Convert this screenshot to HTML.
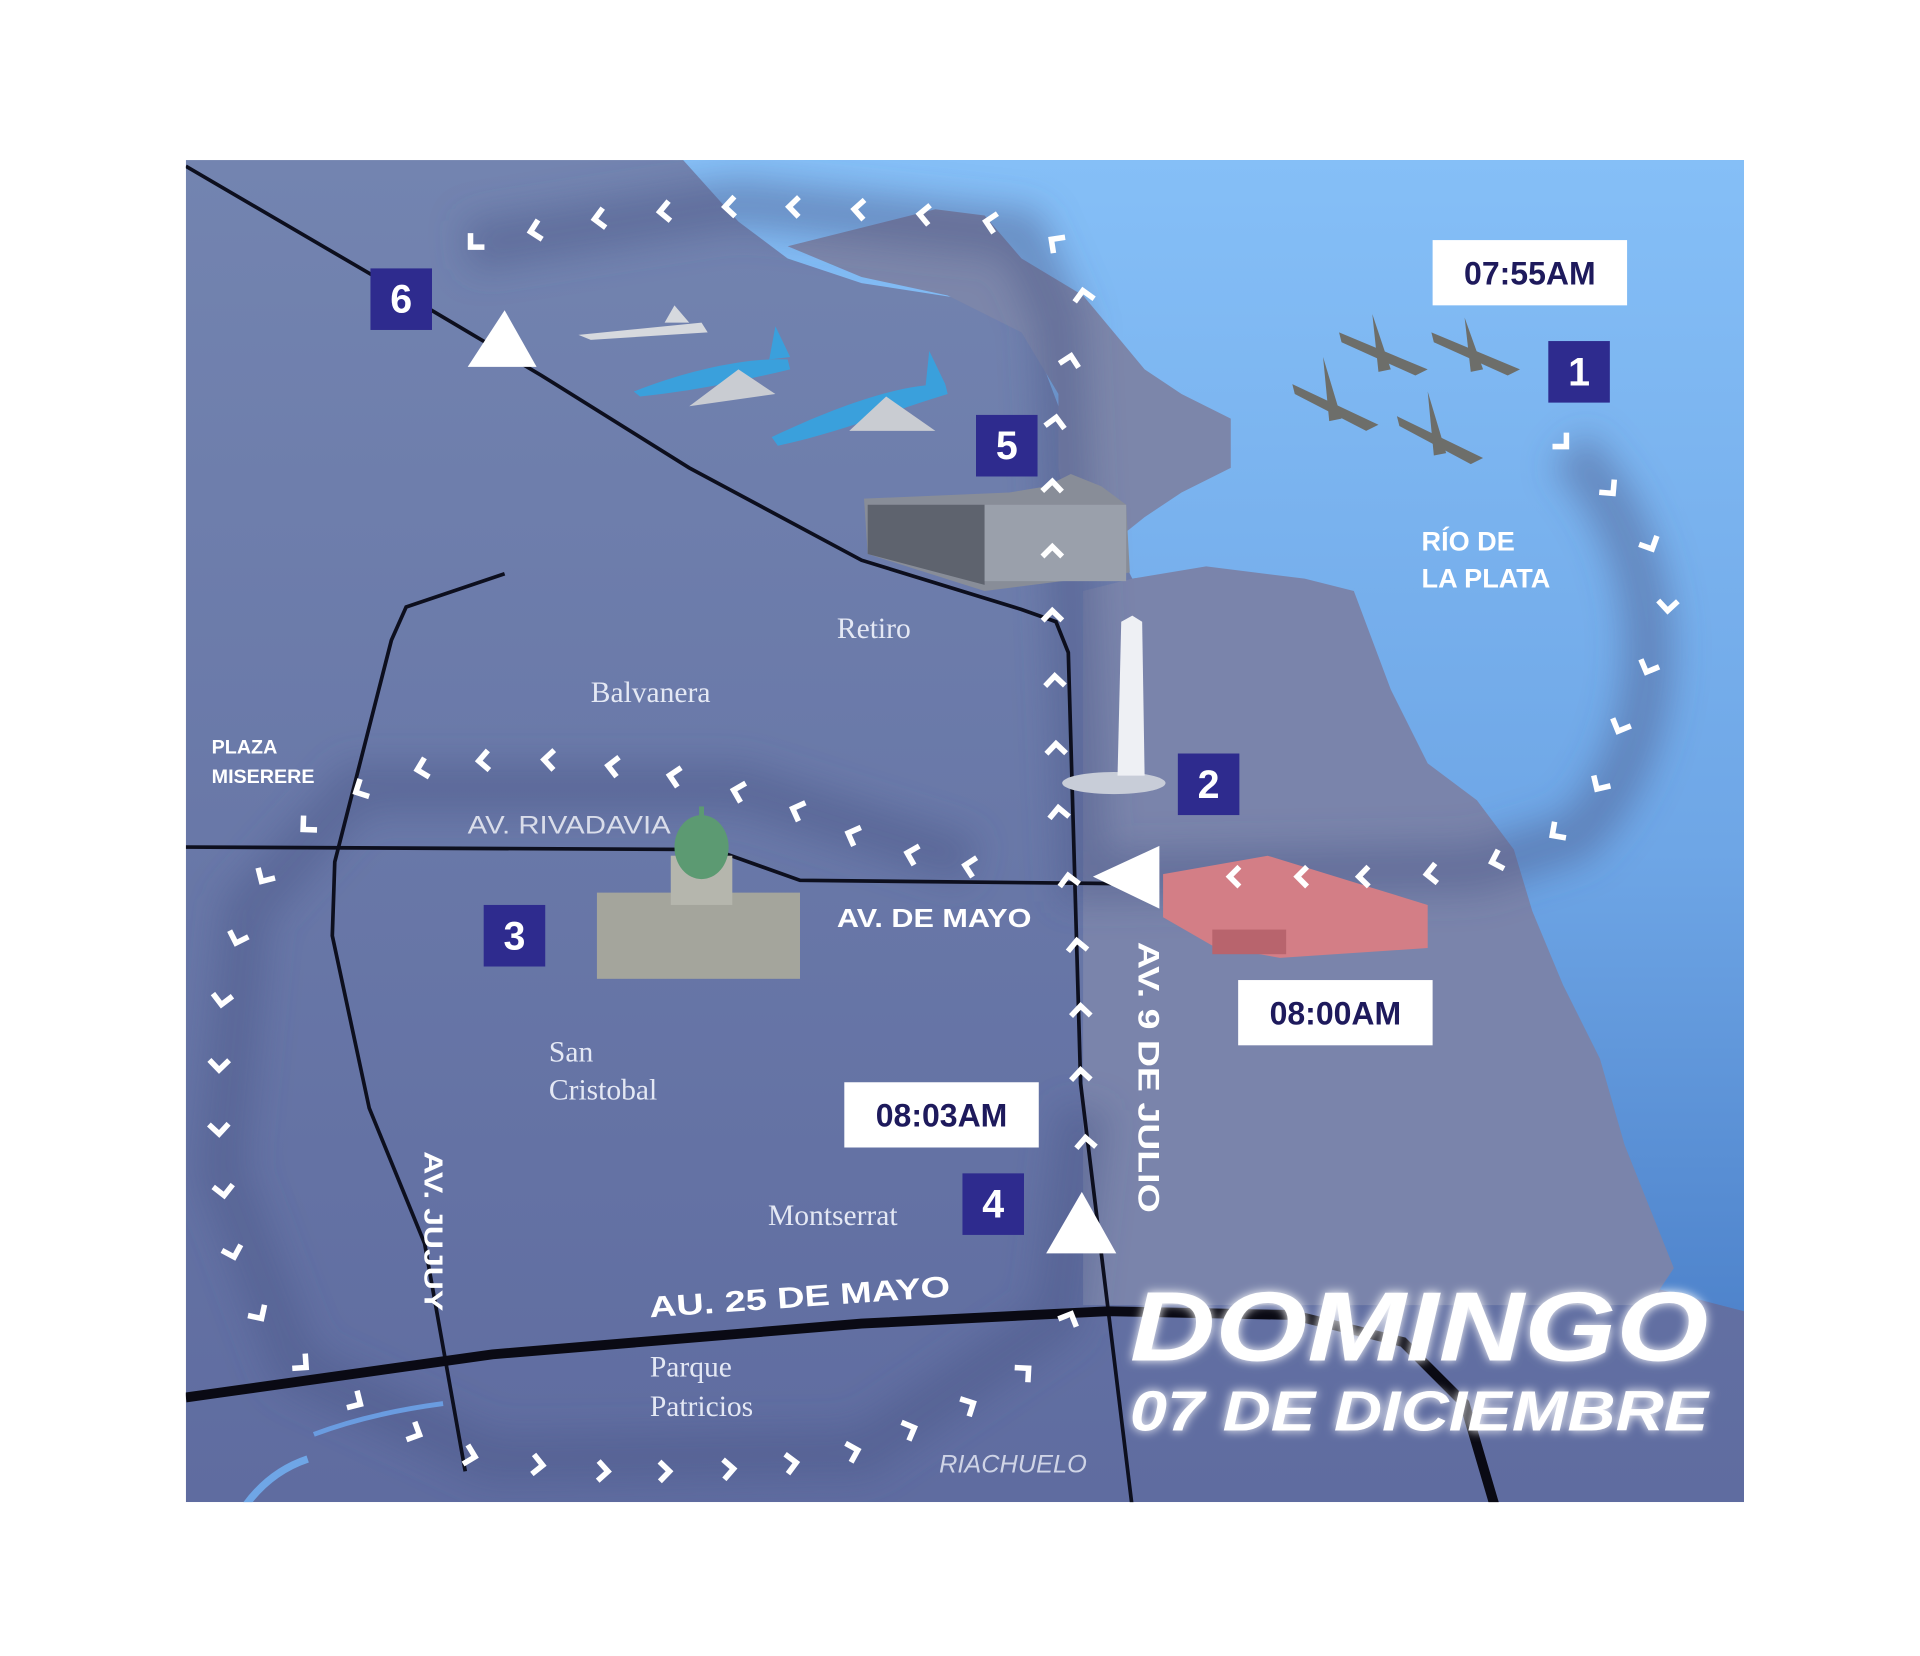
<!DOCTYPE html>
<html><head><meta charset="utf-8"><style>
html,body{margin:0;padding:0;background:#fff;width:1920px;height:1656px;overflow:hidden}
svg{display:block}
text{font-family:"Liberation Sans",sans-serif}
.serif{font-family:"Liberation Serif",serif;fill:#e4e8f4}
.wb{fill:#fff;font-weight:bold}
.num{fill:#fff;font-weight:bold;font-size:32px;text-anchor:middle}
.time{fill:#1e1a5c;font-weight:bold;font-size:26px;text-anchor:middle}
</style></head><body>
<svg width="1920" height="1656" viewBox="0 0 1560 1345" preserveAspectRatio="none" xmlns="http://www.w3.org/2000/svg">
<defs>
<linearGradient id="wat" x1="0" y1="0" x2="0" y2="1">
<stop offset="0" stop-color="#85bff7"/><stop offset="0.6" stop-color="#6ea6e6"/><stop offset="1" stop-color="#4f84cc"/></linearGradient>
<linearGradient id="land" x1="0" y1="0" x2="0" y2="1">
<stop offset="0" stop-color="#7384b0"/><stop offset="1" stop-color="#5f6ca0"/></linearGradient>
<filter id="blur"><feGaussianBlur stdDeviation="14"/></filter>
<filter id="glow"><feGaussianBlur stdDeviation="4" result="b"/><feMerge><feMergeNode in="b"/><feMergeNode in="SourceGraphic"/></feMerge></filter>
<clipPath id="mc"><rect x="151" y="130" width="1266" height="1090"/></clipPath>
</defs>
<g clip-path="url(#mc)">
<rect x="151" y="130" width="1266" height="1090" fill="url(#land)"/>
<!-- water -->
<path d="M555,130 L1417,130 L1417,1065 L1340,1045 L1320,960 L1260,900 L1220,800 L1175,720 L1160,640 L1120,570 L1060,500 L960,465 L920,470 L900,430 L870,400 L860,330 L830,250 L700,230 L640,210 L600,180 Z" fill="url(#wat)"/>
<!-- islands/peninsula grey -->
<path d="M640,200 L700,185 L760,170 L800,175 L830,210 L880,240 L905,270 L930,300 L960,320 L1000,340 L1000,380 L960,400 L930,420 L905,440 L870,430 L860,380 L860,320 L830,270 L770,240 L700,225 Z" fill="#7c86aa"/>
<path d="M920,470 L980,460 L1060,470 L1100,480 L1130,560 L1160,620 L1200,650 L1230,690 L1245,740 L1270,800 L1300,860 L1320,930 L1340,980 L1360,1030 L1340,1060 L880,1060 L880,480 Z" fill="#7a84ab"/>
<!-- route shadow -->
<g filter="url(#blur)" fill="none" stroke="#4a5688" stroke-opacity="0.45" stroke-width="40">
<path d="M1275,365 C1360,450 1360,600 1280,680 L1200,705 L880,712 L870,480 L860,260 L830,190 L600,165 L380,200"/>
<path d="M790,700 L600,640 L290,640 L200,740 L180,950 L240,1110 L400,1185 L700,1180 L860,1070 L880,900"/>
</g>
<!-- roads -->
<g fill="none" stroke="#0d0f1e" stroke-width="3">
<path d="M151,135 L300,222 L440,305 L560,380 L700,455 L830,495 L858,505 L868,530 L878,880 L920,1225"/>
<path d="M151,688 L580,690 L650,715 L940,718"/>
<path d="M410,466 L330,493 L318,520 L272,700 L270,760 L300,900 L345,1010 L378,1195"/>
</g>
<path d="M151,1135 L400,1100 L700,1075 L900,1065 L1050,1068 L1140,1090 L1190,1140 L1215,1225" fill="none" stroke="#0a0a14" stroke-width="8"/>
<path d="M200,1222 Q220,1195 250,1185" stroke="#6fa6e6" stroke-width="6" fill="none"/>
<path d="M255,1165 Q300,1148 360,1140" stroke="#6a9ce0" stroke-width="4" fill="none"/>
<!-- obelisk -->
<ellipse cx="905" cy="636" rx="42" ry="9" fill="#c8cdd8"/>
<path d="M911,505 L920,500 L928,505 L930,630 L908,630 Z" fill="#eef0f4"/>
<!-- retiro station -->
<path d="M702,405 L820,400 L850,395 L870,385 L895,395 L915,410 L918,465 L800,480 L705,450 Z" fill="#888d98"/>
<path d="M705,410 L800,410 L800,475 L705,450 Z" fill="#5e636e"/>
<rect x="800" y="410" width="115" height="62" fill="#9aa0ab"/>
<!-- congreso -->
<rect x="485" y="725" width="165" height="70" fill="#a4a59c"/>
<rect x="545" y="695" width="50" height="40" fill="#b5b6ad"/>
<ellipse cx="570" cy="688" rx="22" ry="26" fill="#5c9a72"/>
<rect x="568" y="655" width="4" height="12" fill="#5c9a72"/>
<!-- casa rosada -->
<path d="M945,710 L1030,695 L1160,735 L1160,770 L1040,778 L985,768 L945,745 Z" fill="#d37e86"/>
<rect x="985" y="755" width="60" height="20" fill="#b8646d"/>
<!-- planes -->
<g fill="#d6d9de">
<path d="M470,272 L570,262 L575,270 L480,276 Z"/>
<path d="M548,248 L560,262 L540,262 Z"/>
</g>
<g>
<path d="M515,318 C560,300 610,290 640,292 L642,300 C600,310 560,318 520,322 Z" fill="#3aa0dc"/>
<path d="M560,330 L600,300 L630,320 Z" fill="#c9ccd2"/>
<path d="M627,355 C680,330 730,312 768,312 L770,320 C730,332 680,352 632,362 Z" fill="#3aa0dc"/>
<path d="M690,350 L720,322 L760,350 Z" fill="#c9ccd2"/>
<path d="M630,265 L642,290 L625,292 Z" fill="#3aa0dc"/>
<path d="M755,285 L768,312 L752,314 Z" fill="#3aa0dc"/>
</g>
<!-- jets -->
<g fill="#6d6e6a">
<path d="M1088,270 L1160,300 L1150,305 L1090,278 Z"/><path d="M1115,255 L1130,300 L1120,302 Z"/>
<path d="M1163,270 L1235,300 L1225,305 L1165,278 Z"/><path d="M1190,258 L1205,300 L1195,302 Z"/>
<path d="M1050,312 L1120,345 L1110,350 L1052,320 Z"/><path d="M1075,290 L1090,340 L1080,342 Z"/>
<path d="M1135,338 L1205,372 L1195,377 L1137,346 Z"/><path d="M1160,318 L1175,368 L1165,370 Z"/>
</g>
<!-- chevrons -->
<g id="chev" fill="none" stroke="#fff" stroke-width="4.5" stroke-linejoin="miter" stroke-linecap="butt"></g>
<!-- triangles -->
<g fill="#fff">
<path d="M380,298 L436,298 L410,252 Z"/>
<path d="M888,712 L942,687 L942,738 Z"/>
<path d="M850,1018 L907,1018 L879,968 Z"/>
</g>
<!-- number boxes -->
<g fill="#2e2b8e">
<rect x="301" y="218" width="50" height="50"/><rect x="793" y="337" width="50" height="50"/>
<rect x="1258" y="277" width="50" height="50"/><rect x="957" y="612" width="50" height="50"/>
<rect x="393" y="735" width="50" height="50"/><rect x="782" y="953" width="50" height="50"/>
</g>
<text class="num" x="326" y="254">6</text><text class="num" x="818" y="373">5</text>
<text class="num" x="1283" y="313">1</text><text class="num" x="982" y="648">2</text>
<text class="num" x="418" y="771">3</text><text class="num" x="807" y="989">4</text>
<!-- time boxes -->
<g fill="#fff"><rect x="1164" y="195" width="158" height="53"/><rect x="1006" y="796" width="158" height="53"/><rect x="686" y="879" width="158" height="53"/></g>
<text class="time" x="1243" y="231">07:55AM</text>
<text class="time" x="1085" y="832">08:00AM</text>
<text class="time" x="765" y="915">08:03AM</text>
<!-- labels -->
<text class="serif" x="680" y="518" font-size="24">Retiro</text>
<text class="serif" x="480" y="570" font-size="24">Balvanera</text>
<text class="serif" x="446" y="862" font-size="24">San</text>
<text class="serif" x="446" y="893" font-size="24">Cristobal</text>
<text class="serif" x="624" y="995" font-size="24">Montserrat</text>
<text class="serif" x="528" y="1118" font-size="24">Parque</text>
<text class="serif" x="528" y="1150" font-size="24">Patricios</text>
<text x="763" y="1196" font-size="20" font-style="italic" fill="#cfd4e6" textLength="120" lengthAdjust="spacingAndGlyphs">RIACHUELO</text>
<text x="380" y="677" font-size="20" fill="#d9ddea" textLength="165" lengthAdjust="spacingAndGlyphs">AV. RIVADAVIA</text>
<text class="wb" x="172" y="612" font-size="16">PLAZA</text>
<text class="wb" x="172" y="636" font-size="16">MISERERE</text>
<text class="wb" x="680" y="753" font-size="21" textLength="158" lengthAdjust="spacingAndGlyphs">AV. DE MAYO</text>
<text class="wb" x="0" y="0" font-size="24" transform="translate(925,765) rotate(90)" textLength="220" lengthAdjust="spacingAndGlyphs">AV. 9 DE JULIO</text>
<text class="wb" x="0" y="0" font-size="21" transform="translate(345,935) rotate(90)" textLength="130" lengthAdjust="spacingAndGlyphs">AV. JUJUY</text>
<text class="wb" x="0" y="0" font-size="24" transform="translate(528,1070) rotate(-4)" textLength="245" lengthAdjust="spacingAndGlyphs">AU. 25 DE MAYO</text>
<text class="wb" x="1155" y="447" font-size="22">RÍO DE</text>
<text class="wb" x="1155" y="477" font-size="22">LA PLATA</text>
<g filter="url(#glow)">
<text class="wb" x="918" y="1105" font-size="80" font-style="italic" textLength="470" lengthAdjust="spacingAndGlyphs">DOMINGO</text>
<text class="wb" x="918" y="1162" font-size="46" font-style="italic" textLength="470" lengthAdjust="spacingAndGlyphs">07 DE DICIEMBRE</text>
</g>
</g>
</svg>
<script>
var paths=[
[[1272,362],[1310,400],[1342,445],[1355,495],[1338,545],[1315,593],[1298,640],[1262,678],[1213,700],[1160,710],[1105,712],[1055,712],[1000,712],[950,712]],
[[785,703],[738,693],[690,677],[645,657],[597,642],[545,630],[495,622],[443,617],[390,618],[340,625],[290,643],[247,673],[213,715],[192,765],[180,815],[178,868],[178,920],[182,970],[190,1020],[212,1070],[248,1110],[292,1140],[340,1165],[385,1183],[440,1190],[493,1195],[543,1195],[595,1193],[646,1188],[696,1178],[742,1160],[790,1140],[835,1112],[870,1068],[875,1020]],
[[882,925],[878,870],[878,818],[875,765],[868,712],[860,657],[858,605],[857,550],[855,497],[855,445],[855,392],[858,340],[870,290],[880,237],[855,195],[802,180],[748,174],[695,170],[642,168],[590,168],[537,172],[484,178],[432,188],[383,200],[370,250]]
];
var g=document.getElementById('chev'),ns='http://www.w3.org/2000/svg';
paths.forEach(function(p){for(var i=0;i<p.length-1;i++){var a=p[i],b=p[i+1],pr=p[i-1]||a;
var dx=b[0]-pr[0],dy=b[1]-pr[1],ang=Math.atan2(dy,dx)*180/Math.PI;
var e=document.createElementNS(ns,'path');e.setAttribute('d','M-7,-8 L1,0 L-7,8');
e.setAttribute('transform','translate('+a[0]+','+a[1]+') rotate('+ang+')');g.appendChild(e);}});
</script>
</body></html>
